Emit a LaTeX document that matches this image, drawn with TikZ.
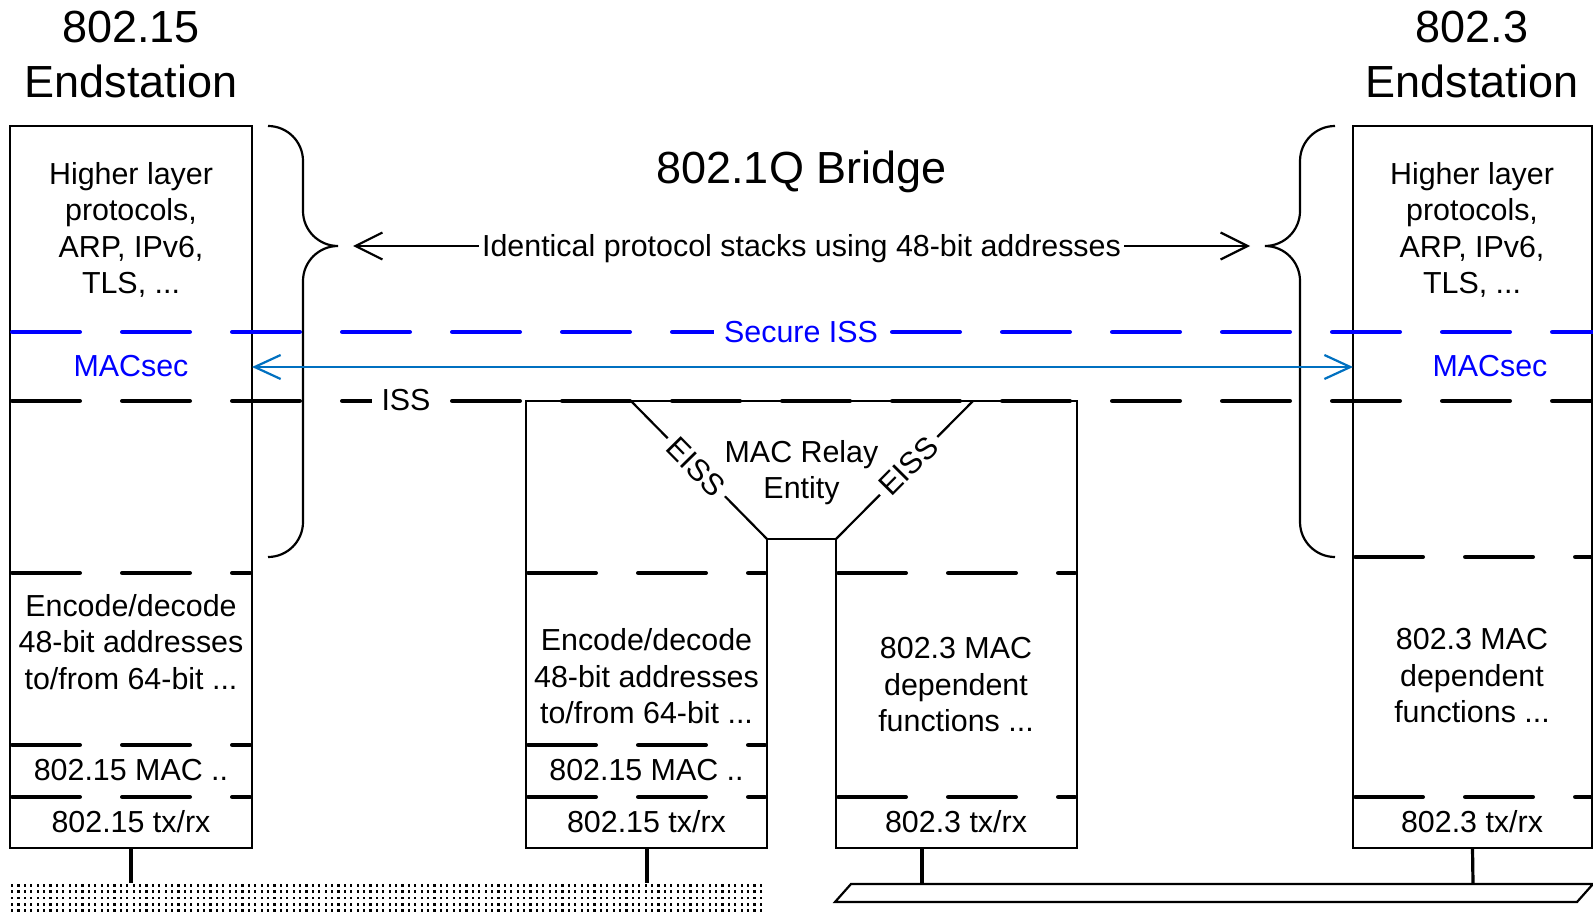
\documentclass[tikz,border=0pt]{standalone}
\usepackage{fontspec}
\setmainfont{Liberation Sans}
\usetikzlibrary{arrows.meta}
\definecolor{secblue}{RGB}{0,0,255}
\definecolor{arrblue}{RGB}{0,112,192}
\begin{document}
\begin{tikzpicture}[x=0.5pt,y=-0.5pt,
  outline/.style={line width=1.1pt},
  layersep/.style={line width=2.2pt,line cap=round,dash pattern=on 33.8pt off 21.2pt},
  bodytext/.style={font=\fontsize{15.2}{18.25}\selectfont,align=center,inner sep=0pt},
  titletext/.style={font=\fontsize{22.5}{27.5}\selectfont,align=center,inner sep=0pt},
  overline/.style={bodytext,fill=white,inner xsep=5pt,inner ysep=1pt},
  stackbox/.style={draw,outline,inner sep=0pt,minimum height=361pt},
  stub/.style={line width=1.6pt},
  openarrow/.style={line width=1.1pt,{Straight Barb[length=13.5pt,width=13.5pt]}-{Straight Barb[length=13.5pt,width=13.5pt]}},
  macarrow/.style={line width=1.1pt,arrblue,{Straight Barb[length=13pt,width=12pt]}-{Straight Barb[length=13pt,width=12pt]}},
]
\useasboundingbox (0,0) rectangle (1593,914);

% endstation boxes
\node[stackbox,minimum width=121pt] (lbox) at (131,487) {};
\node[stackbox,minimum width=119.5pt] (rbox) at (1472.5,487) {};

% bridge outline
\draw[outline] (526,401) -- (1077,401) -- (1077,848) -- (836,848) -- (836,539) -- (767,539) -- (767,848) -- (526,848) -- cycle;

% braces
\draw[outline] (268,126) .. controls (287.3,126) and (303,141.7) .. (303,161) -- (303,211)
  .. controls (303,230.3) and (318.7,246) .. (338,246)
  .. controls (318.7,246) and (303,261.7) .. (303,281) -- (303,522)
  .. controls (303,541.3) and (287.3,557) .. (268,557);
\draw[outline] (1335,126) .. controls (1315.7,126) and (1300,141.7) .. (1300,161) -- (1300,211)
  .. controls (1300,230.3) and (1284.3,246) .. (1265,246)
  .. controls (1284.3,246) and (1300,261.7) .. (1300,281) -- (1300,522)
  .. controls (1300,541.3) and (1315.7,557) .. (1335,557);

% global layer lines
\draw[layersep,secblue] (12.2,332) -- (1600,332);
\draw[layersep] (12.2,401) -- (1600,401);

% left endstation separators
\draw[layersep] (12.2,573) -- (250,573);
\draw[layersep] (12.2,745) -- (250,745);
\draw[layersep] (12.2,797) -- (250,797);
% bridge left separators
\draw[layersep] (528.2,573) -- (765,573);
\draw[layersep] (528.2,745) -- (765,745);
\draw[layersep] (528.2,797) -- (765,797);
% bridge right separators
\draw[layersep] (838.2,573) -- (1075,573);
\draw[layersep] (838.2,797) -- (1075,797);
% right endstation separators
\draw[layersep] (1355.2,557) -- (1600,557);
\draw[layersep] (1355.2,797) -- (1600,797);

% EISS diagonals
\coordinate (dL1) at (631,401);
\coordinate (dL2) at (767,539);
\coordinate (dR1) at (836,539);
\coordinate (dR2) at (973,401);
\draw[outline] (dL1) -- node[overline,sloped,pos=0.48,inner xsep=3pt] (eissL) {EISS} (dL2);
\draw[outline] (dR1) -- node[overline,sloped,pos=0.53,inner xsep=3pt] (eissR) {EISS} (dR2);

% arrows
\coordinate (iA) at (353,246);
\coordinate (iB) at (1250,246);
\draw[openarrow] (iA) -- (iB);
\coordinate (mA) at (252,367);
\coordinate (mB) at (1353,367);
\draw[macarrow] (mA) -- (mB);

% titles
\node[titletext] (t15) at (131,54.5) {802.15\\Endstation};
\node[titletext] (t3) at (1472,54.5) {802.3\\Endstation};
\node[titletext] (tbr) at (801.5,172) {802.1Q Bridge};

% labels on lines
\node[overline,inner xsep=1.5pt] (ident) at (801.5,249) {Identical protocol stacks using 48-bit addresses};
\node[overline,text=secblue] (secure) at (801,332) {Secure ISS};
\node[overline] (iss) at (406,400) {ISS};

% box texts
\node[bodytext] (hlL) at (131,230) {Higher layer\\protocols,\\ARP, IPv6,\\TLS, ...};
\node[bodytext] (hlR) at (1472,230) {Higher layer\\protocols,\\ARP, IPv6,\\TLS, ...};
\node[bodytext,text=secblue] (macL) at (131,366) {MACsec};
\node[bodytext,text=secblue] (macR) at (1490,366) {MACsec};
\node[bodytext] (mre) at (801.5,472.7) {MAC Relay\\Entity};
\node[bodytext] (encL) at (131,642) {Encode/decode\\48-bit addresses\\to/from 64-bit ...};
\node[bodytext] (encB) at (646.5,676.5) {Encode/decode\\48-bit addresses\\to/from 64-bit ...};
\node[bodytext] (depB) at (956,685) {802.3 MAC\\dependent\\functions ...};
\node[bodytext] (depR) at (1472,676) {802.3 MAC\\dependent\\functions ...};
\node[bodytext] (m15L) at (131,770) {802.15 MAC ..};
\node[bodytext] (m15B) at (646.5,770) {802.15 MAC ..};
\node[bodytext] (tx15L) at (131,822) {802.15 tx/rx};
\node[bodytext] (tx15B) at (646.5,822) {802.15 tx/rx};
\node[bodytext] (tx3B) at (956,822) {802.3 tx/rx};
\node[bodytext] (tx3R) at (1472,822) {802.3 tx/rx};

% media
\foreach \i in {0,...,117} {\foreach \j in {0,...,4} {\fill (11+\i*6.4,884+\j*6.3) rectangle ++(2.2,2.6);}}
\draw[outline] (851,884) -- (1593,884) -- (1577,902) -- (835,902) -- cycle;

% stubs
\coordinate (gL1) at (131,883);
\coordinate (bL) at (647,848);
\coordinate (gL2) at (647,883);
\coordinate (bR) at (922,848);
\coordinate (gR1) at (922,884);
\coordinate (gR2) at (1473,884);
\draw[stub] (lbox.south) -- (gL1);
\draw[stub] (bL) -- (gL2);
\draw[stub] (bR) -- (gR1);
\draw[stub] (rbox.south) -- (gR2);
\end{tikzpicture}
\end{document}
